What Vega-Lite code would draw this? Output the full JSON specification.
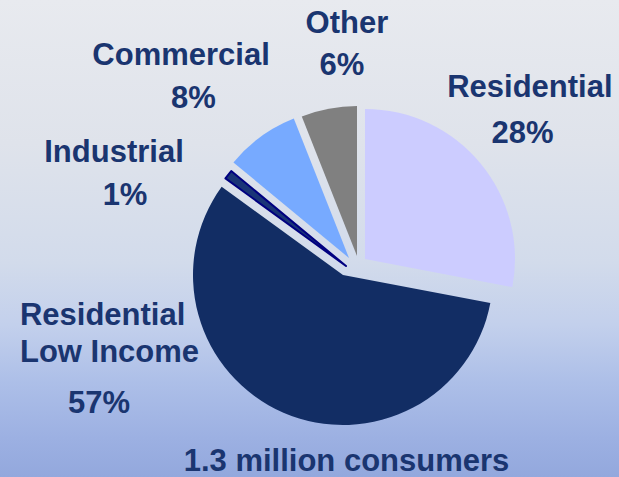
{
  "$schema": "https://vega.github.io/schema/vega-lite/v6.json",
  "width": 619,
  "height": 477,
  "autosize": {"type": "fit", "contains": "padding"},
  "padding": 0,
  "background": "#e8eaef",
  "view": {
    "stroke": null,
    "fill": {
      "gradient": "linear",
      "x1": 0, "y1": 0, "x2": 0, "y2": 1,
      "stops": [
        {"offset": 0, "color": "#e8eaef"},
        {"offset": 0.3, "color": "#dfe3eb"},
        {"offset": 0.55, "color": "#d2dbeb"},
        {"offset": 0.68, "color": "#c3d0ec"},
        {"offset": 0.8, "color": "#adbfe8"},
        {"offset": 0.92, "color": "#9cb0e2"},
        {"offset": 1, "color": "#93a8dd"}
      ]
    }
  },
  "config": {
    "text": {"font": "Liberation Sans", "fontWeight": "bold", "fontSize": 31, "color": "#1a3570", "align": "center", "baseline": "alphabetic"}
  },
  "layer": [
    {
      "data": {
        "values": [
          {"segment": "Residential", "share": 28, "order": 1},
          {"segment": "Residential Low Income", "share": 57, "order": 2},
          {"segment": "Industrial", "share": 1, "order": 3},
          {"segment": "Commercial", "share": 8, "order": 4},
          {"segment": "Other", "share": 6, "order": 5}
        ]
      },
      "transform": [
        {"stack": "share", "groupby": [], "sort": [{"field": "order"}], "as": ["start", "end"]},
        {"calculate": "(datum.start + datum.end) / 2", "as": "mid"},
        {"calculate": "datum.share + '%'", "as": "pct"}
      ],
      "encoding": {
        "theta": {"field": "start", "type": "quantitative", "stack": null, "scale": {"domain": [0, 100]}}
      },
      "layer": [
        {
          "transform": [{"filter": "datum.segment === 'Residential'"}],
          "layer": [
            {"mark": {"type": "arc", "radius": 150, "color": "#ccccff", "xOffset": 55.5, "yOffset": 20.5},
             "encoding": {"theta2": {"field": "end"}}},
            {"mark": {"type": "text", "radius": 260, "dx": 20, "dy": 24},
             "encoding": {"theta": {"field": "mid", "type": "quantitative", "stack": null}, "text": {"field": "segment"}}},
            {"mark": {"type": "text", "radius": 225, "dx": 39.6, "dy": 47.9},
             "encoding": {"theta": {"field": "mid", "type": "quantitative", "stack": null}, "text": {"field": "pct"}}}
          ]
        },
        {
          "transform": [{"filter": "datum.segment === 'Residential Low Income'"}],
          "layer": [
            {"mark": {"type": "arc", "radius": 150, "color": "#122d64", "xOffset": 33.5, "yOffset": 36.5},
             "encoding": {"theta2": {"field": "end"}}},
            {"transform": [{"calculate": "replace(datum.segment, ' Low', '\\nLow')", "as": "name"}],
             "mark": {"type": "text", "radius": 194, "dx": -212.5, "dy": -91.6, "align": "left", "lineBreak": "\n", "lineHeight": 37},
             "encoding": {"theta": {"field": "mid", "type": "quantitative", "stack": null}, "text": {"field": "name"}}},
            {"mark": {"type": "text", "radius": 256, "dx": -139.8, "dy": -60.5, "align": "left"},
             "encoding": {"theta": {"field": "mid", "type": "quantitative", "stack": null}, "text": {"field": "pct"}}}
          ]
        },
        {
          "transform": [{"filter": "datum.segment === 'Industrial'"}],
          "layer": [
            {"mark": {"type": "arc", "radius": 149, "color": "#1a3577", "stroke": "#000080", "strokeWidth": 2, "strokeJoin": "round", "xOffset": 36.5, "yOffset": 27.5},
             "encoding": {"theta2": {"field": "end"}}},
            {"mark": {"type": "text", "radius": 201, "dx": -36.7, "dy": 46.7},
             "encoding": {"theta": {"field": "mid", "type": "quantitative", "stack": null}, "text": {"field": "segment"}}},
            {"mark": {"type": "text", "radius": 166, "dx": -53.3, "dy": 68.2},
             "encoding": {"theta": {"field": "mid", "type": "quantitative", "stack": null}, "text": {"field": "pct"}}}
          ]
        },
        {
          "transform": [{"filter": "datum.segment === 'Commercial'"}],
          "layer": [
            {"mark": {"type": "arc", "radius": 150, "color": "#77aaff", "xOffset": 39.5, "yOffset": 19.5},
             "encoding": {"theta2": {"field": "end"}}},
            {"mark": {"type": "text", "radius": 216, "dx": -1.5, "dy": 1.2},
             "encoding": {"theta": {"field": "mid", "type": "quantitative", "stack": null}, "text": {"field": "segment"}}},
            {"mark": {"type": "text", "radius": 174, "dx": -13.7, "dy": 10.3},
             "encoding": {"theta": {"field": "mid", "type": "quantitative", "stack": null}, "text": {"field": "pct"}}}
          ]
        },
        {
          "transform": [{"filter": "datum.segment === 'Other'"}],
          "layer": [
            {"mark": {"type": "arc", "radius": 150, "color": "#808080", "xOffset": 47.5, "yOffset": 17.5},
             "encoding": {"theta2": {"field": "end"}}},
            {"mark": {"type": "text", "radius": 195, "dx": 74, "dy": -14},
             "encoding": {"theta": {"field": "mid", "type": "quantitative", "stack": null}, "text": {"field": "segment"}}},
            {"mark": {"type": "text", "radius": 155, "dx": 61.5, "dy": -11.2},
             "encoding": {"theta": {"field": "mid", "type": "quantitative", "stack": null}, "text": {"field": "pct"}}}
          ]
        }
      ]
    },
    {
      "data": {"values": [{"consumers_millions": 1.3}]},
      "transform": [{"calculate": "datum.consumers_millions + ' million consumers'", "as": "caption"}],
      "mark": {"type": "text", "dx": 37, "dy": -6, "clip": true},
      "encoding": {"y": {"value": "height"}, "text": {"field": "caption"}}
    }
  ]
}
